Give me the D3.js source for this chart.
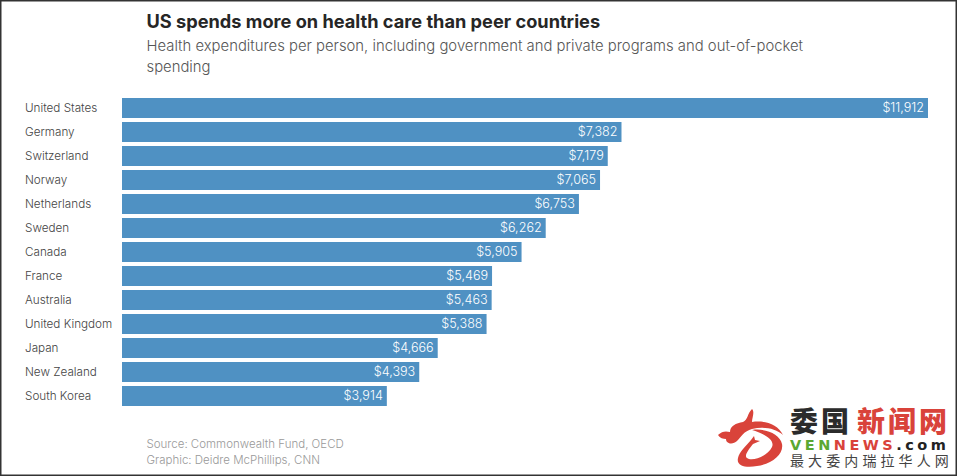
<!DOCTYPE html>
<html><head><meta charset="utf-8">
<script src="https://cdn.jsdelivr.net/npm/d3@7"></script>
<style>html,body{margin:0;padding:0;background:#fff;overflow:hidden}svg{display:block}</style>
</head><body><svg id="c" width="957" height="476"></svg>
<script>
const countries = ["United States","Germany","Switzerland","Norway","Netherlands","Sweden","Canada","France","Australia","United Kingdom","Japan","New Zealand","South Korea"];
const spending = [11912,7382,7179,7065,6753,6262,5905,5469,5463,5388,4666,4393,3914];
const titleText = "US spends more on health care than peer countries";
const subtitleLines = ["Health expenditures per person, including government and private programs and out-of-pocket","spending"];
const footerLines = ["Source: Commonwealth Fund, OECD","Graphic: Deidre McPhillips, CNN"];

const svg = d3.select("#c");
const font = "Inter, 'Liberation Sans', sans-serif";
const x = d3.scaleLinear().domain([0,11912]).range([122,928]);
const y = d3.scaleBand().domain(countries).range([96,408]).paddingInner(4/24).paddingOuter(2/24);

svg.append("rect").attr("x",0.75).attr("y",0.75).attr("width",955.5).attr("height",474.5).attr("fill","#fff").attr("stroke","#333").attr("stroke-width",1.5);

svg.append("text").attr("x",146.5).attr("y",28).attr("font-family",font).attr("font-weight",700).attr("font-size",18.2).attr("fill","#262626").text(titleText);
svg.selectAll("text.sub").data(subtitleLines).join("text").attr("class","sub")
  .attr("x",146.5).attr("y",(d,i)=>51+i*21).attr("font-family",font).attr("font-size",14.85).attr("font-weight",300).attr("fill","#555").text(d=>d);

svg.selectAll("rect.bar").data(spending).join("rect").attr("class","bar")
  .attr("x",x(0)).attr("y",(d,i)=>y(countries[i])).attr("width",d=>x(d)-x(0)).attr("height",y.bandwidth()).attr("fill","#4f91c3");

const yAxis = d3.axisLeft(y).tickSize(0).tickPadding(0);
const ax = svg.append("g").attr("transform","translate(25,0)").call(yAxis);
ax.select(".domain").remove();
ax.selectAll("text").attr("text-anchor","start").attr("x",0).attr("font-family",font).attr("font-size",11.7).attr("font-weight",300).attr("fill","#444");

svg.selectAll("text.val").data(spending).join("text").attr("class","val")
  .attr("x",d=>x(d)-4).attr("y",(d,i)=>y(countries[i])+y.bandwidth()/2).attr("dy","0.35em").attr("text-anchor","end")
  .attr("font-family",font).attr("font-size",12.6).attr("font-weight",300).attr("fill","#fff").text(d=>"$"+d3.format(",")(d));

svg.selectAll("text.foot").data(footerLines).join("text").attr("class","foot")
  .attr("x",146.5).attr("y",(d,i)=>448+i*16).attr("font-family",font).attr("font-size",11.5).attr("font-weight",300).attr("fill","#999").text(d=>d);

// watermark
const wm = svg.append("g");
wm.append("path").attr("fill","#d9433a").attr("d","M718 435 C722 431 726 431 730 432 C730 426 736 423 743 422 C748 420 747 414 752 409 C755 412 752 418 752 422 C764 420 778 424 783 435 C776 429 765 426 752 429 C744 431 741 437 737 441 C733 445 726 444 726 439 C723 439 720 438 718 435 Z");
wm.append("path").attr("fill","#d9433a").attr("d","M752 430 C766 428 780 434 782 444 C784 454 772 464 757 466 C746 468 736 466 738 458 C739 452 746 446 751 440 L754 436 L755 440 L760 441 L753 444 C748 450 744 456 747 458 C752 462 768 456 772 447 C775 440 765 434 752 430 Z");
wm.append("text").attr("x",790).attr("y",432).attr("font-family","'Noto Sans CJK SC'").attr("font-weight",900).attr("font-size",28).attr("letter-spacing",3).attr("fill","#2b2b2b").text("委国");
wm.append("text").attr("x",857).attr("y",432).attr("font-family","'Noto Sans CJK SC'").attr("font-weight",900).attr("font-size",28).attr("letter-spacing",3).attr("fill","#d9433a").text("新闻网");
const v = wm.append("text").attr("x",790).attr("y",449.5).attr("font-family","'DejaVu Sans'").attr("font-weight",700).attr("font-size",14.5).attr("letter-spacing",3.5);
v.append("tspan").attr("fill","#5aa832").text("VEN");
v.append("tspan").attr("fill","#d9433a").text("NEWS");
v.append("tspan").attr("fill","#222").text(".com");
wm.append("text").attr("x",790).attr("y",466).attr("font-family","'Noto Sans CJK SC'").attr("font-size",14).attr("letter-spacing",4.1).attr("fill","#444").text("最大委内瑞拉华人网");
</script></body></html>
